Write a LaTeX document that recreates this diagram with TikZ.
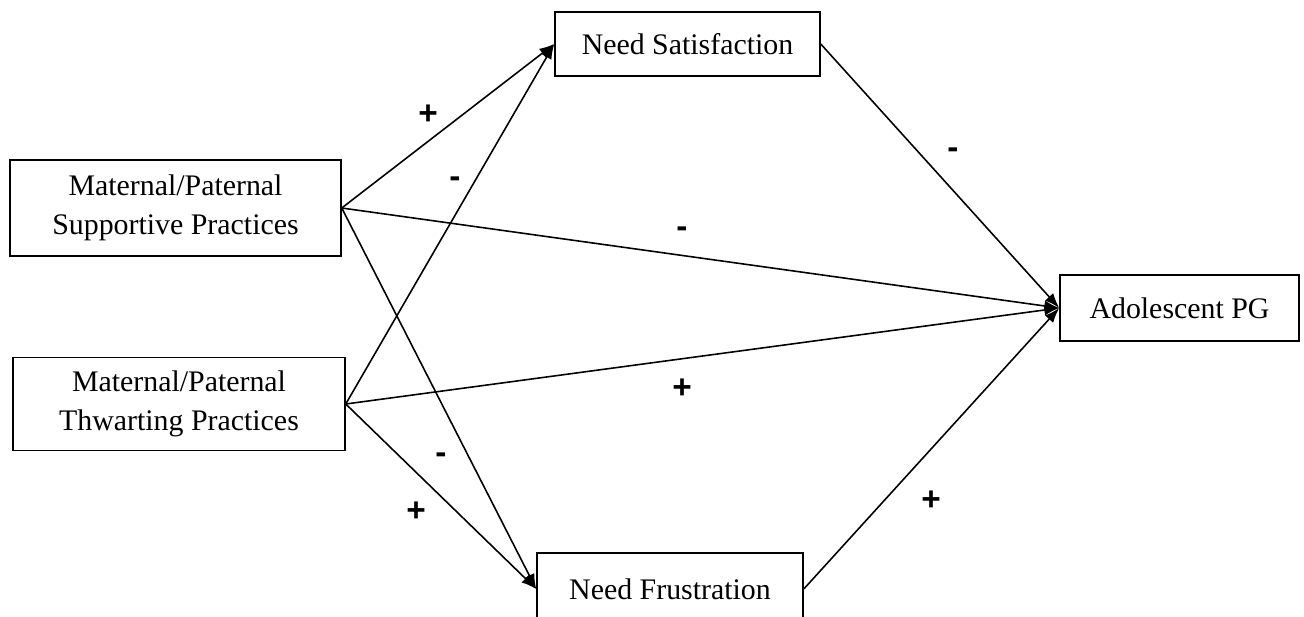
\documentclass[tikz,border=0pt]{standalone}
\usepackage{fontspec}
\setmainfont{Liberation Serif}
\setsansfont{Liberation Sans}
\usetikzlibrary{arrows.meta}

\begin{document}
\begin{tikzpicture}[x=0.02cm,y=-0.02cm,line width=0.9pt,
  var/.style={draw,inner sep=0pt,align=center,font=\fontsize{17}{22}\selectfont},
  effect/.style={-{Latex[length=3mm,width=2.2mm]}},
  sign/.style={font=\sffamily\bfseries\fontsize{19}{20}\selectfont}]
  \clip (0,0) rectangle (1304,616);
  \node[var,minimum width=5.3cm,minimum height=1.28cm] (ns) at (687.5,44) {Need Satisfaction};
  \node[var,minimum width=6.62cm,minimum height=1.92cm] (sup) at (175.5,208) {Maternal/Paternal\\Supportive Practices};
  \node[var,minimum width=6.64cm,minimum height=1.86cm] (thw) at (179,404) {Maternal/Paternal\\Thwarting Practices};
  \node[var,minimum width=4.78cm,minimum height=1.32cm] (apg) at (1179.5,308) {Adolescent PG};
  \node[var,minimum width=5.32cm,minimum height=1.44cm] (nf) at (670,589) {Need Frustration};
  \foreach \src in {sup,thw}{
    \draw[effect] (\src.east) -- (ns.west);
    \draw[effect] (\src.east) -- (nf.west);
    \draw[effect] (\src.east) -- (apg.west);
  }
  \draw[effect] (ns.east) -- (apg.west);
  \draw[effect] (nf.east) -- (apg.west);
  \foreach \x/\y/\s [count=\i] in {428/115/+,455/182/-,953/153/-,682/232/-,682/389/+,441/458/-,416/512/+,931/501/+}
    \node[sign] (lab\i) at (\x,\y) {\s};
\end{tikzpicture}
\end{document}
